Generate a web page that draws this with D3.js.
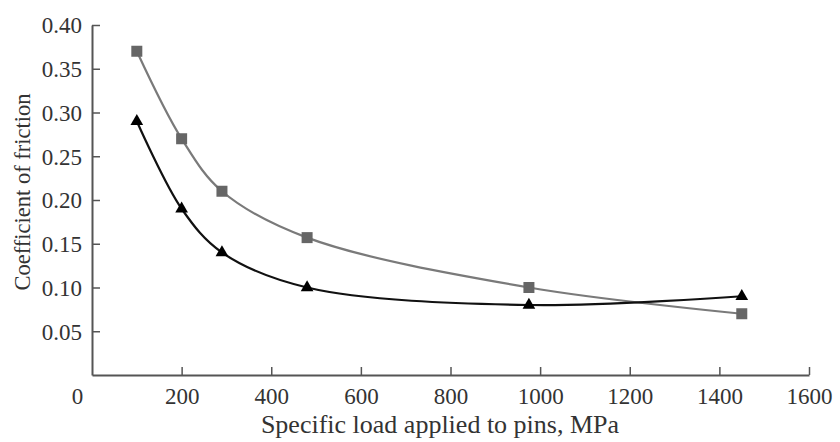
<!DOCTYPE html>
<html>
<head>
<meta charset="utf-8">
<script src="https://cdn.jsdelivr.net/npm/d3@7"></script>
<style>
  html, body { margin: 0; padding: 0; background: #fff; }
  svg { display: block; }
  text { font-family: "Liberation Serif", "Times New Roman", serif; fill: #333; }
</style>
</head>
<body>
<svg id="chart" width="840" height="442"></svg>
<script>
// Specific load (MPa) at each measurement
const loads = [100, 200, 290, 480, 975, 1450];
// Coefficient of friction, square-marker series
const frictionSquares = [0.37, 0.27, 0.21, 0.157, 0.10, 0.07];
// Coefficient of friction, triangle-marker series
const frictionTriangles = [0.29, 0.19, 0.14, 0.10, 0.08, 0.09];
// Axis ticks
const xTicks = [0, 200, 400, 600, 800, 1000, 1200, 1400, 1600];
const yTicks = [0.05, 0.10, 0.15, 0.20, 0.25, 0.30, 0.35, 0.40];

const svg = d3.select("#chart");
const margin = { left: 92, right: 31, top: 25, bottom: 67 };
const W = 840, H = 442;

const x = d3.scaleLinear().domain([0, 1600]).range([margin.left, W - margin.right]);
const y = d3.scaleLinear().domain([0, 0.40]).range([H - margin.bottom, margin.top]);

const axisColor = "#555";
const tickFont = 23;

// X axis with ticks pointing into the plot
const xAxis = svg.append("g")
  .attr("transform", `translate(0,${y(0)})`)
  .call(d3.axisBottom(x).tickValues(xTicks).tickSizeInner(-8).tickSizeOuter(0).tickPadding(0)
    .tickFormat(d3.format("d")));
xAxis.select(".domain").attr("stroke", axisColor).attr("stroke-width", 2);
xAxis.selectAll(".tick line").attr("stroke", axisColor).attr("stroke-width", 1.5)
  .attr("opacity", d => d === 0 ? 0 : 1);
xAxis.selectAll(".tick text")
  .attr("y", 29)
  .attr("dy", 0)
  .attr("font-size", tickFont)
  .attr("font-family", "Liberation Serif")
  .attr("fill", "#333")
  .attr("x", d => d === 0 ? -15 : 0);

// Y axis with ticks pointing into the plot
const yAxis = svg.append("g")
  .attr("transform", `translate(${x(0)},0)`)
  .call(d3.axisLeft(y).tickValues(yTicks).tickSizeInner(-8).tickSizeOuter(0).tickPadding(0)
    .tickFormat(d3.format(".2f")));
yAxis.select(".domain").attr("stroke", axisColor).attr("stroke-width", 2);
yAxis.selectAll(".tick line").attr("stroke", axisColor).attr("stroke-width", 1.5);
yAxis.selectAll(".tick text")
  .attr("x", -10)
  .attr("dy", "0.34em")
  .attr("font-size", tickFont)
  .attr("font-family", "Liberation Serif")
  .attr("fill", "#333");

// Axis titles
svg.append("text")
  .attr("x", 440)
  .attr("y", 433)
  .attr("text-anchor", "middle")
  .attr("font-size", 26)
  .text("Specific load applied to pins, MPa");

svg.append("text")
  .attr("transform", "translate(30,192) rotate(-90)")
  .attr("text-anchor", "middle")
  .attr("font-size", 22.5)
  .text("Coefficient of friction");

const line = d3.line()
  .x(d => x(d[0]))
  .y(d => y(d[1]))
  .curve(d3.curveCatmullRom.alpha(0.5));

const squares = loads.map((l, i) => [l, frictionSquares[i]]);
const triangles = loads.map((l, i) => [l, frictionTriangles[i]]);

// Square-marker series
svg.append("path")
  .datum(squares)
  .attr("d", line)
  .attr("fill", "none")
  .attr("stroke", "#7a7a7a")
  .attr("stroke-width", 2.2);

// Triangle-marker series
svg.append("path")
  .datum(triangles)
  .attr("d", line)
  .attr("fill", "none")
  .attr("stroke", "#111")
  .attr("stroke-width", 2.2);

const sq = 11;
svg.append("g").selectAll("rect")
  .data(squares)
  .join("rect")
  .attr("x", d => x(d[0]) - sq / 2)
  .attr("y", d => y(d[1]) - sq / 2)
  .attr("width", sq)
  .attr("height", sq)
  .attr("fill", "#666");

const tri = d3.symbol().type(d3.symbolTriangle).size(70);
svg.append("g").selectAll("path")
  .data(triangles)
  .join("path")
  .attr("transform", d => `translate(${x(d[0])},${y(d[1])})`)
  .attr("d", tri)
  .attr("fill", "#000");
</script>
</body>
</html>
